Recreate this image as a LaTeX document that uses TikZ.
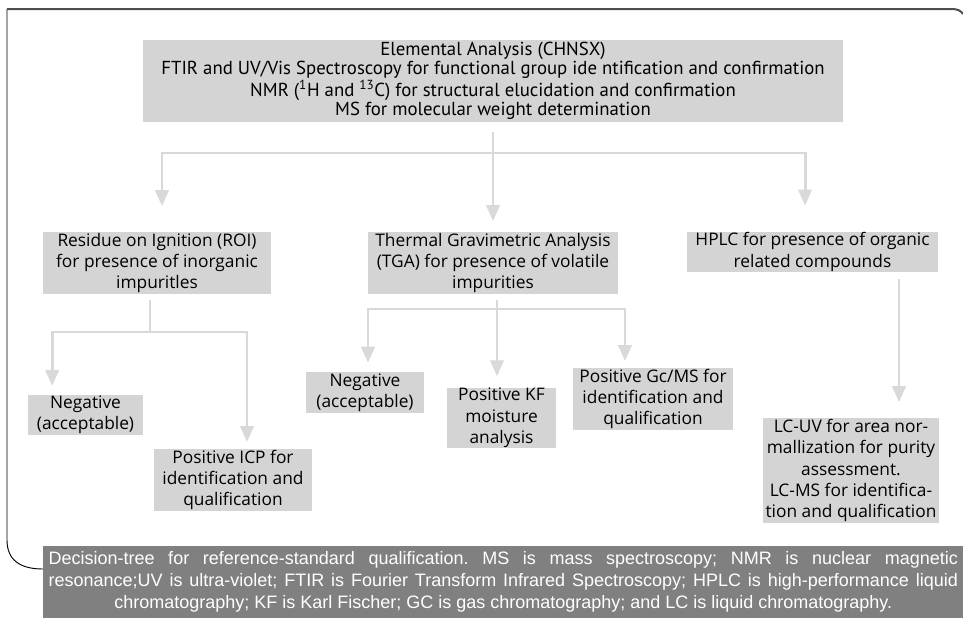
\documentclass[tikz,border=0pt]{standalone}
\usepackage{fontspec}
\usetikzlibrary{arrows.meta}
\newfontfamily\topfont{PT Sans}
\newfontfamily\boxfont{Open Sans}
\newfontfamily\capfont{Liberation Sans}
\definecolor{boxgray}{HTML}{D4D4D4}
\definecolor{linegray}{HTML}{D9D9D9}
\definecolor{capgray}{HTML}{808080}
\definecolor{framegray}{HTML}{505050}

\begin{document}
\begin{tikzpicture}[x=0.75pt, y=-0.75pt,
    box/.style={fill=boxgray, align=center, inner xsep=1pt, inner ysep=0.5pt,
                font=\boxfont\fontsize{13}{16}\selectfont},
    conn/.style={draw=linegray, line width=2.2pt},
    arr/.style={conn, -{Triangle[length=12pt, width=10pt]}}
  ]
  \useasboundingbox (0,0) rectangle (963,618);

  % Frame
  \draw[black, line width=0.7pt] (43,569) .. controls (20,569) and (7,560) .. (7,540) -- (7,9);
  \draw[framegray, line width=1.5pt] (7,9) -- (952,9) .. controls (958,9) and (961,11) .. (963,14);

  % Top box
  \node[box, font=\topfont\fontsize{14.1}{14.4}\selectfont, minimum width=525pt, minimum height=61.5pt] (top) at (493,81)
    {Elemental Analysis (CHNSX)\\
     FTIR and UV/Vis Spectroscopy for functional group ide ntification and confirmation\\
     NMR (\textsuperscript{1}H and \textsuperscript{13}C) for structural elucidation and confirmation\\
     MS for molecular weight determination};

  % Second level
  \node[box, minimum width=171pt, minimum height=43.5pt] (roi) at (157,263)
    {Residue on Ignition (ROI)\\ for presence of inorganic\\ impuritles};
  \node[box, minimum width=188pt, minimum height=43.5pt] (tga) at (493,263)
    {Thermal Gravimetric Analysis\\ (TGA) for presence of volatile\\ impurities};
  \node[box, minimum width=188pt, minimum height=27pt] (hplc) at (812.5,252)
    {HPLC for presence of organic\\ related compounds};

  % Third level
  \node[box, minimum width=86pt, minimum height=27pt] (neg1) at (85.5,415) {Negative\\ (acceptable)};
  \node[box, minimum width=118.5pt, minimum height=43.5pt] (icp) at (233,480)
    {Positive ICP for\\ identification and\\ qualification};
  \node[box, minimum width=88.5pt, minimum height=30.75pt] (neg2) at (365,392.5) {Negative\\ (acceptable)};
  \node[box, minimum width=82pt, minimum height=43.5pt] (kf) at (501.5,418)
    {Positive KF\\ moisture\\ analysis};
  \node[box, minimum width=120pt, minimum height=43.5pt] (gc) at (653,399)
    {Positive Gc/MS for\\ identification and\\ qualification};
  \node[box, minimum width=132pt, minimum height=77pt] (lc) at (851,470.5)
    {LC-UV for area nor-\\ mallization for purity\\ assessment.\\ LC-MS for identifica-\\ tion and qualification};

  % Caption
  \node[fill=capgray, text=white, font=\capfont\fontsize{13.5}{16.5}\selectfont\frenchspacing, align=center,
        inner xsep=4pt, inner ysep=2pt, minimum width=690pt, minimum height=54pt, anchor=north west] (cap) at (43,546)
    {\makebox[682pt][s]{Decision-tree for reference-standard qualification. MS is mass spectroscopy; NMR is nuclear magnetic}\\
     \makebox[682pt][s]{resonance;UV is ultra-violet; FTIR is Fourier Transform Infrared Spectroscopy; HPLC is high-performance liquid}\\
     chromatography; KF is Karl Fischer; GC is gas chromatography; and LC is liquid chromatography.};

  % Connections from the top box
  \coordinate (bus) at (493,153);
  \draw[conn, shorten <=7.5pt] (top.south) -- (bus);
  \draw[arr, shorten >=19.5pt] (bus) -| ([xshift=3.75pt]roi.north);
  \draw[arr, shorten >=8.25pt] (bus) -- (tga.north);
  \draw[arr, shorten >=19.5pt] (bus) -| ([xshift=-5.6pt]hplc.north);

  % ROI branch
  \coordinate (roibus) at (150,332);
  \draw[conn, shorten <=4.5pt] (roi.south -| roibus) -- (roibus);
  \draw[arr, shorten >=6.75pt] (roibus) -| ([xshift=-25pt]neg1.north);
  \draw[arr, shorten >=5.25pt] (roibus) -| ([xshift=10.5pt]icp.north);

  % TGA branch
  \coordinate (tgabus) at (497,309);
  \draw[conn, shorten <=4.5pt] (tga.south -| tgabus) -- (tgabus);
  \draw[arr, shorten >=6.75pt] (tgabus) -| ([xshift=2.25pt]neg2.north);
  \draw[arr, shorten >=8.25pt] (tgabus) -- (kf.north -| tgabus);
  \draw[arr, shorten >=5.25pt] (tgabus) -| ([xshift=-21pt]gc.north);

  % HPLC branch
  \coordinate (hplcx) at (899,277);
  \draw[arr, shorten <=5.25pt, shorten >=12pt] (hplc.south -| hplcx) -- (lc.north -| hplcx);
\end{tikzpicture}
\end{document}
